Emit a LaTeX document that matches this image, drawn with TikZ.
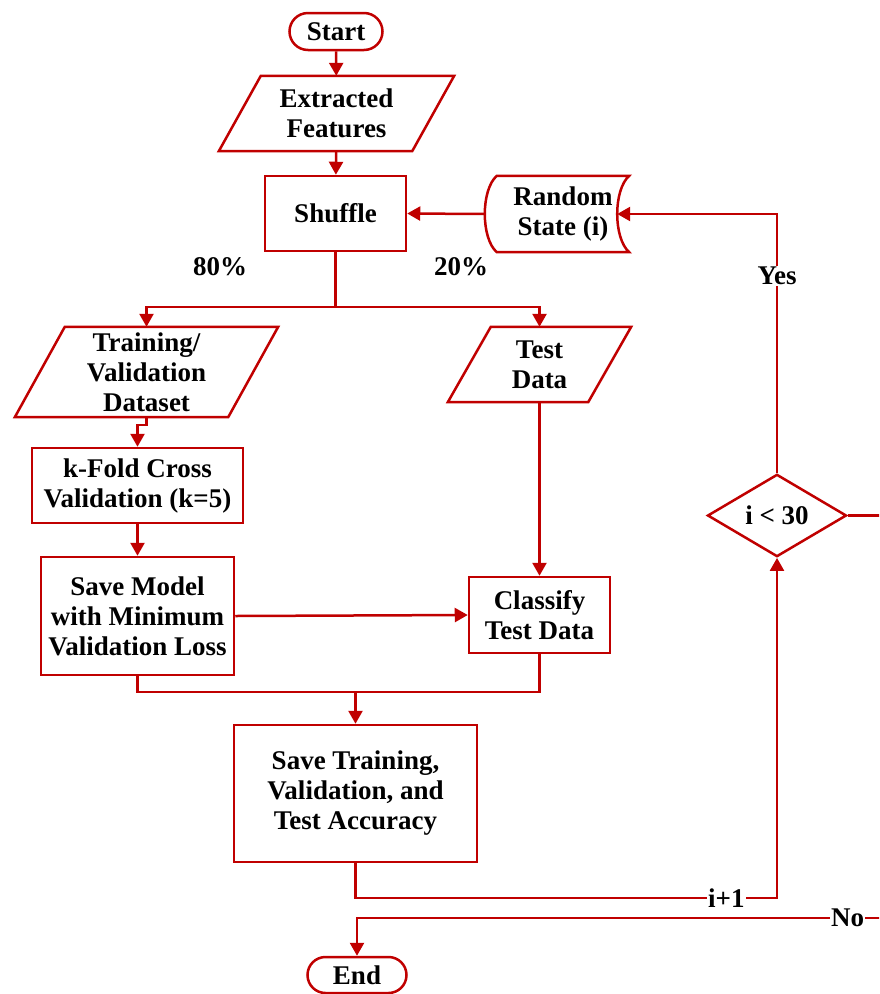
\documentclass[tikz,border=0pt]{standalone}
\usepackage{fontspec}
\setmainfont{Liberation Serif}
\usepackage{xcolor}
\usepackage{tikz}
\usetikzlibrary{shapes.geometric, shapes.misc, arrows.meta, positioning, calc}
\definecolor{flowred}{RGB}{192,0,0}
\newcommand{\flowfont}{\fontsize{27}{30}\selectfont\bfseries}
\tikzset{
  block/.style={rectangle, draw=flowred, line width=2.5pt, fill=white, align=center, inner sep=0pt, font=\flowfont},
  terminal/.style={rounded rectangle, draw=flowred, line width=2.5pt, fill=white, align=center, inner sep=0pt, font=\flowfont},
  datanode/.style={rectangle, align=center, inner sep=0pt, font=\flowfont},
  decision/.style={diamond, draw=flowred, line width=2.5pt, fill=white, inner sep=0pt, font=\flowfont},
  link/.style={flowred, line width=2.5pt},
  arrow/.style={-{Triangle[length=13pt, width=14pt]}, flowred, line width=2.5pt},
  lbl/.style={fill=white, inner sep=1pt, font=\flowfont, text=black},
}

\begin{document}
\begin{tikzpicture}[x=1pt, y=-1pt]
  \useasboundingbox (0,0) rectangle (879,994);
  \clip (0,0) rectangle (879,994);

  % Terminals
  \node[terminal, minimum width=93pt, minimum height=37pt] (start) at (336,31.5) {Start};
  \node[terminal, minimum width=99pt, minimum height=36pt] (end) at (357,975) {End};

  % Data (parallelograms drawn round the text nodes)
  \node[datanode, minimum width=193pt, minimum height=75pt] (feat) at (336.5,113.5) {Extracted\\Features};
  \draw[link] ([xshift=-21pt]feat.south west) -- ([xshift=21pt]feat.north west)
    -- ([xshift=21pt]feat.north east) -- ([xshift=-21pt]feat.south east) -- cycle;

  \node[datanode, minimum width=213pt, minimum height=90pt] (train) at (146.5,372) {Training/\\Validation\\Dataset};
  \draw[link] ([xshift=-25pt]train.south west) -- ([xshift=25pt]train.north west)
    -- ([xshift=25pt]train.north east) -- ([xshift=-25pt]train.south east) -- cycle;

  \node[datanode, minimum width=140pt, minimum height=75pt] (test) at (539.5,364.5) {Test\\Data};
  \draw[link] ([xshift=-21.5pt]test.south west) -- ([xshift=21.5pt]test.north west)
    -- ([xshift=21.5pt]test.north east) -- ([xshift=-21.5pt]test.south east) -- cycle;

  % Stored data (random state)
  \node[datanode, minimum width=132pt, minimum height=76pt] (rs) at (563,214) {Random\\State (i)};
  \draw[link] (rs.north west) -- (rs.north east)
    .. controls ([xshift=-16pt,yshift=-14pt]rs.north east) and ([xshift=-16pt,yshift=14pt]rs.south east) .. (rs.south east)
    -- (rs.south west)
    .. controls ([xshift=-16pt,yshift=14pt]rs.south west) and ([xshift=-16pt,yshift=-14pt]rs.north west) .. cycle;

  % Process blocks
  \node[block, minimum width=141pt, minimum height=75pt] (shuffle) at (335.5,213.5) {Shuffle};
  \node[block, minimum width=211pt, minimum height=75pt] (kfold) at (137.5,485.5) {k-Fold Cross\\Validation (k=5)};
  \node[block, minimum width=193pt, minimum height=118pt] (savemodel) at (137.5,616) {Save Model\\with Minimum\\Validation Loss};
  \node[block, minimum width=141pt, minimum height=76pt] (classify) at (539.5,615) {Classify\\Test Data};
  \node[block, minimum width=243pt, minimum height=137pt] (saveacc) at (355.5,793.5) {Save Training,\\Validation, and\\Test Accuracy};

  % Decision
  \node[decision, minimum width=139pt, minimum height=75pt] (dec) at (777,515.5) {i < 30};

  % Split labels
  \node[font=\flowfont] (pa) at (220,267) {80\%};
  \node[font=\flowfont] (pb) at (461,267) {20\%};

  % Helper points
  \coordinate (split) at (335.5,307);
  \coordinate (merge) at (355.5,692);
  \coordinate (loopc) at (777,898);
  \coordinate (nobend) at (895,918);

  % Connections
  \draw[arrow] (start) -- (feat);
  \draw[arrow] (feat) -- (shuffle);
  \draw[arrow] ([xshift=-12pt]rs.west) -- (shuffle.east);
  \draw[link] (shuffle.south) -- (split);
  \draw[arrow] (split) -| (train.north);
  \draw[arrow] (split) -| (test.north);
  \draw[arrow] (train.south) -- ++(0,8) -| (kfold.north);
  \draw[arrow] (kfold) -- (savemodel);
  \draw[arrow] (savemodel.east) -- (classify.west);
  \draw[arrow] (test.south) -- (classify.north);
  \draw[link] (savemodel.south) |- (merge) -| (classify.south);
  \draw[arrow] (merge) -- (saveacc.north);
  \draw[arrow] (saveacc.south) |- node[lbl, pos=0.94] {i+1} (loopc) -- (dec.south);
  \draw[arrow] (dec.north) |- node[lbl, pos=0.38] {Yes} ([xshift=-12pt]rs.east);
  \draw[link] (dec.east) -| (nobend);
  \draw[arrow] (nobend) -| node[lbl, pos=0.044] {No} (end.north);
\end{tikzpicture}
\end{document}
